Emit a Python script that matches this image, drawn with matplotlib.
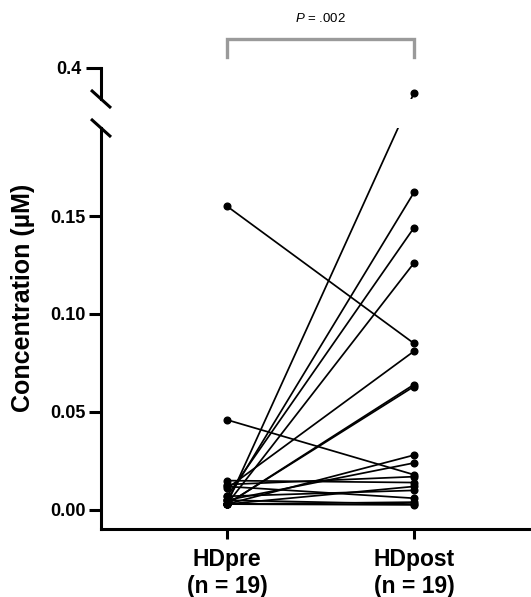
import matplotlib
matplotlib.use('Agg')
import matplotlib.pyplot as plt
import matplotlib.transforms as mtransforms
from matplotlib.lines import Line2D

plt.rcParams['font.family'] = 'Liberation Sans'
plt.rcParams['mathtext.fontset'] = 'custom'
plt.rcParams['mathtext.it'] = 'Liberation Sans:italic'
plt.rcParams['mathtext.rm'] = 'Liberation Sans'

# paired values, HDpre -> HDpost (uM)
groups = ['HDpre\n(n = 19)', 'HDpost\n(n = 19)']
hd_pre = [0.155, 0.046, 0.003, 0.005, 0.007, 0.003, 0.011, 0.003, 0.003, 0.003,
          0.005, 0.013, 0.015, 0.003, 0.007, 0.012, 0.003, 0.005, 0.003]
hd_post = [0.085, 0.018, 0.36, 0.162, 0.144, 0.126, 0.081, 0.064, 0.063, 0.028,
           0.024, 0.017, 0.014, 0.012, 0.010, 0.006, 0.004, 0.003, 0.0026]
low_ticks = [0.00, 0.05, 0.10, 0.15]
low_ticklabels = ['0.00', '0.05', '0.10', '0.15']
high_ticks = [0.4]
p_label = r'$\mathit{P}$ = .002'

W, H = 531, 597
fig = plt.figure(figsize=(W / 100, H / 100), dpi=100)

def fx(px):
    return px / W

def fy(py):
    return (H - py) / H

ax = fig.add_axes([fx(101), fy(529), fx(531) - fx(101), fy(128) - fy(529)])
axt = fig.add_axes([fx(101), fy(99), fx(531) - fx(101), fy(68) - fy(99)])

lw_spine = 2.2
for a in (ax, axt):
    a.set_xlim(-0.674, 1.626)
    a.spines['top'].set_visible(False)
    a.spines['right'].set_visible(False)
    a.spines['left'].set_linewidth(lw_spine)
    a.spines['bottom'].set_linewidth(lw_spine)
    a.patch.set_alpha(0)
ax.set_ylim(-0.0097, 0.1949)
axt.set_ylim(0.3504, 0.4)

# lines are straight on screen across the axis break
def to_other(src, dst, x, y):
    disp = src.transData.transform((x, y))
    return dst.transData.inverted().transform(disp)[1]

low_top = ax.get_ylim()[1]
for pre, post in zip(hd_pre, hd_post):
    pre_l = pre if pre <= low_top else to_other(axt, ax, 0, pre)
    post_l = post if post <= low_top else to_other(axt, ax, 1, post)
    ax.plot([0, 1], [pre_l, post_l], '-', color='black', lw=1.25)
    pre_u = to_other(ax, axt, 0, pre) if pre <= low_top else pre
    post_u = to_other(ax, axt, 1, post) if post <= low_top else post
    axt.plot([0, 1], [pre_u, post_u], '-', color='black', lw=1.25)
    for a in (ax, axt):
        a.plot([0, 1], [pre, post], 'o', ms=4.8, mfc='black', mec='black')

ax.set_yticks(low_ticks)
ax.set_yticklabels(low_ticklabels)
ax.set_xticks([0, 1])
ax.set_xticklabels(groups)
ax.tick_params(axis='y', length=9, width=lw_spine, pad=2, labelsize=13)
ax.tick_params(axis='x', length=7, width=lw_spine, pad=7, labelsize=16.5)
for t in ax.get_yticklabels() + ax.get_xticklabels():
    t.set_fontweight('bold')
fig.text(fx(23), fy(298), 'Concentration (µM)', rotation=90, ha='center', va='center',
         fontsize=18, fontweight='bold')

axt.set_yticks(high_ticks)
axt.set_yticklabels(['0.4'])
axt.tick_params(axis='y', length=11, width=lw_spine, pad=3, labelsize=13)
for t in axt.get_yticklabels():
    t.set_fontweight('bold')
axt.spines['bottom'].set_visible(False)
axt.set_xticks([])

# axis break marks
for cy in (99, 128):
    fig.add_artist(Line2D([fx(91), fx(111)], [fy(cy - 9), fy(cy + 9)],
                          color='black', lw=lw_spine, solid_capstyle='butt'))

# significance bracket
tr = mtransforms.blended_transform_factory(ax.transData, fig.transFigure)
axt.plot([0, 0, 1, 1], [fy(57), fy(39), fy(39), fy(57)], color='#9a9a9a',
         lw=2.4, transform=tr, clip_on=False, solid_joinstyle='miter')
fig.text(0.5, fy(19), p_label, transform=tr, ha='center', va='center', fontsize=9.5)

fig.savefig('out.png', dpi=100)
